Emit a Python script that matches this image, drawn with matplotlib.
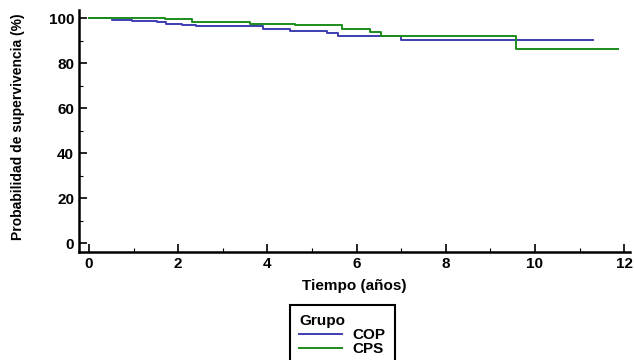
import numpy as np
import matplotlib.pyplot as plt

plt.rcParams['font.family'] = ['Liberation Sans', 'DejaVu Sans']

# Kaplan-Meier steps (time in years, survival in %)
cop_t = [0, 0.51, 0.96, 1.52, 1.73, 2.08, 2.41, 3.91, 4.51, 5.33, 5.59, 6.99, 11.31]
cop_s = [100, 99.4, 98.8, 98.1, 97.5, 97.0, 96.6, 95.0, 94.2, 93.2, 92.0, 90.5, 90.5]
cps_t = [0, 1.70, 2.32, 3.61, 4.62, 5.67, 6.30, 6.54, 9.57, 11.87]
cps_s = [100, 99.6, 98.5, 97.6, 96.9, 95.4, 93.9, 92.0, 86.4, 86.4]
groups = ['COP', 'CPS']
colors = ['#3d3db0', '#1b8c1b']

fig = plt.figure(figsize=(6.34, 3.6), dpi=100)
ax = fig.add_axes([0.1246, 0.30, 0.869, 0.672])

ax.step(cop_t, cop_s, where='post', color=colors[0], lw=1.4, label=groups[0])
ax.step(cps_t, cps_s, where='post', color=colors[1], lw=1.4, label=groups[1])

ax.set_xlim(-0.224, 12.13)
ax.set_ylim(-4, 103.6)
ax.set_xticks(np.arange(0, 13, 2))
ax.set_xticks(np.arange(0, 13, 1), minor=True)
ax.set_yticks(np.arange(0, 101, 20))
ax.set_yticks(np.arange(0, 101, 10), minor=True)
ax.tick_params(which='major', direction='in', length=6, width=1.2, labelsize=11)
ax.tick_params(which='minor', direction='in', length=3, width=0.8)
for lab in ax.get_xticklabels() + ax.get_yticklabels():
    lab.set_fontweight('bold')

for side in ['top', 'right']:
    ax.spines[side].set_visible(False)
for side in ['left', 'bottom']:
    ax.spines[side].set_linewidth(1.8)

ax.set_xlabel('Tiempo (años)', fontsize=11, fontweight='bold', labelpad=6)
ax.set_ylabel('Probabilidad de supervivencia (%)', fontsize=10, fontweight='bold')
ax.yaxis.set_label_coords(-0.098, 0.52)

leg = fig.legend(loc='upper left', bbox_to_anchor=(290 / 634, 1 - 305 / 360),
                 borderaxespad=0, title='Grupo', fancybox=False, edgecolor='black',
                 framealpha=1, handlelength=2.8, handletextpad=0.7, borderpad=0.6,
                 labelspacing=0.0, prop={'weight': 'bold', 'size': 11}, alignment='left')
leg.get_title().set_fontweight('bold')
leg.get_title().set_fontsize(11)
leg.get_frame().set_linewidth(1.5)

fig.savefig('out.png', dpi=100)
